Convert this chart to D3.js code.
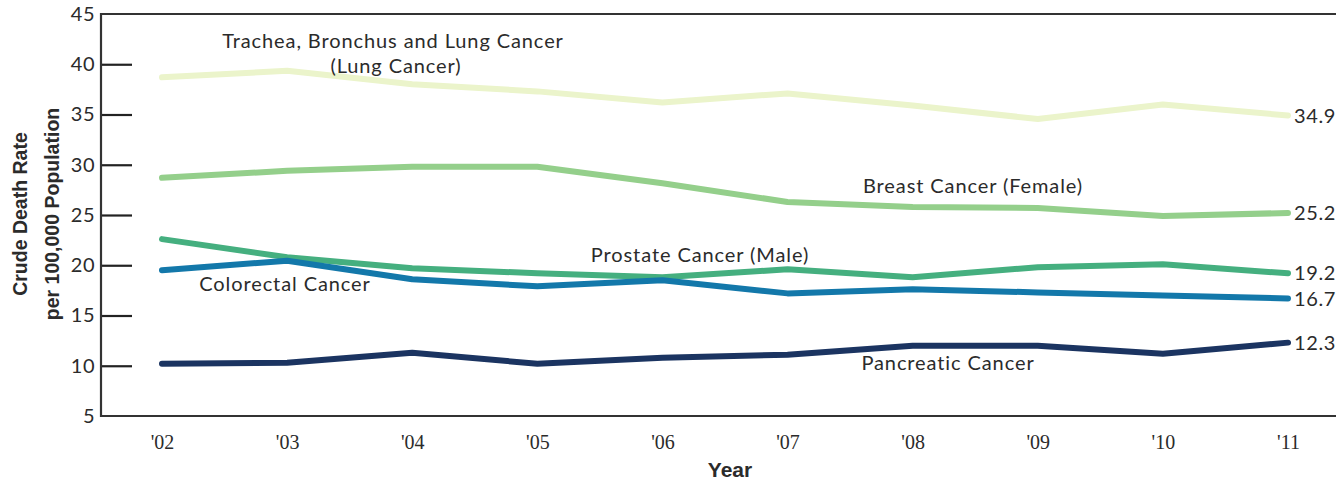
<!DOCTYPE html>
<html>
<head>
<meta charset="utf-8">
<script src="https://cdn.jsdelivr.net/npm/d3@7"></script>
<style>
  html, body { margin: 0; padding: 0; background: #fff; }
  svg { display: block; }
</style>
</head>
<body>
<svg id="chart" width="1336" height="480"></svg>
<script>
const years = ["'02", "'03", "'04", "'05", "'06", "'07", "'08", "'09", "'10", "'11"];
const lungValues       = [38.7, 39.35, 38.0, 37.3, 36.2, 37.1, 35.9, 34.55, 36.0, 34.9];
const breastValues     = [28.7, 29.4, 29.8, 29.8, 28.15, 26.3, 25.8, 25.7, 24.9, 25.2];
const prostateValues   = [22.6, 20.8, 19.7, 19.2, 18.8, 19.6, 18.8, 19.8, 20.1, 19.2];
const colorectalValues = [19.5, 20.45, 18.6, 17.9, 18.5, 17.2, 17.6, 17.3, 17.0, 16.7];
const pancreaticValues = [10.2, 10.3, 11.3, 10.2, 10.8, 11.1, 12.0, 12.0, 11.2, 12.3];
const yTicks = [5, 10, 15, 20, 25, 30, 35, 40, 45];
const endLabels = ["34.9", "25.2", "19.2", "16.7", "12.3"];
const seriesNames = ["Trachea, Bronchus and Lung Cancer", "Breast Cancer (Female)", "Prostate Cancer (Male)", "Colorectal Cancer", "Pancreatic Cancer"];
const colors = ["#ebf4cb", "#94cf8b", "#45af7f", "#1378aa", "#1b3461"];

const series = [lungValues, breastValues, prostateValues, colorectalValues, pancreaticValues];

const svg = d3.select("#chart");
const mLeft = 101, mRight = 1336, mTop = 14, mBottom = 416;

const x = d3.scalePoint().domain(years).range([162, 1288]);
const y = d3.scaleLinear().domain([5, 45]).range([mBottom, mTop]);

const labelFont = "Lato, 'Open Sans', sans-serif";
const ink = "#2b2b2b";

// Y axis labels
const yAxis = d3.axisLeft(y).tickValues(yTicks).tickSize(0).tickPadding(6);
const gy = svg.append("g").attr("transform", `translate(${mLeft},0)`).call(yAxis);
gy.select(".domain").remove();
gy.selectAll("text").attr("font-family", labelFont).attr("font-size", 20)
  .attr("letter-spacing", 0.5).attr("fill", ink);

// inward ticks
const inner = d3.axisRight(y).tickValues(yTicks.filter(v => v > 5 && v < 45)).tickSize(31).tickFormat("");
const gi = svg.append("g").attr("transform", `translate(${mLeft},0)`).call(inner);
gi.select(".domain").remove();
gi.selectAll("line").attr("stroke", "#222").attr("stroke-width", 2.2);

// Frame: top, left, bottom
svg.append("path")
  .attr("d", `M${mRight},${mTop}H${mLeft}V${mBottom}H${mRight}`)
  .attr("fill", "none").attr("stroke", "#333").attr("stroke-width", 2.2);

// X axis labels
const xAxis = d3.axisBottom(x).tickSize(0).tickPadding(19);
const gx = svg.append("g").attr("transform", `translate(0,${mBottom})`).call(xAxis);
gx.select(".domain").remove();
gx.selectAll("text").attr("font-family", "'Liberation Serif', serif").attr("font-size", 20).attr("fill", ink);

// Axis titles
svg.append("text").attr("x", 730).attr("y", 477).attr("text-anchor", "middle")
  .attr("font-family", "'Liberation Sans', Arial, sans-serif").attr("font-weight", "bold")
  .attr("font-size", 21).attr("fill", ink).text("Year");

const yt = svg.append("text").attr("transform", "translate(0,214) rotate(-90)")
  .attr("text-anchor", "middle")
  .attr("font-family", "'Liberation Sans', Arial, sans-serif").attr("font-weight", "bold")
  .attr("font-size", 19.5).attr("fill", ink);
yt.append("tspan").attr("x", 0).attr("y", 27).text("Crude Death Rate");
yt.append("tspan").attr("x", 0).attr("y", 59).text("per 100,000 Population");

// Lines
const line = d3.line().x((d, i) => x(years[i])).y(d => y(d));
series.forEach((vals, k) => {
  svg.append("path").datum(vals)
    .attr("d", line)
    .attr("fill", "none")
    .attr("stroke", colors[k])
    .attr("stroke-width", 6)
    .attr("stroke-linecap", "round")
    .attr("stroke-linejoin", "round");
});

// End labels
series.forEach((vals, k) => {
  svg.append("text")
    .attr("x", x(years[years.length - 1]) + 6)
    .attr("y", y(vals[vals.length - 1]))
    .attr("dy", "0.36em")
    .attr("font-family", labelFont).attr("font-size", 20).attr("letter-spacing", 0.6).attr("fill", ink)
    .text(endLabels[k]);
});

// Series labels
const lab = (txt, cx, by) => svg.append("text").attr("x", cx).attr("y", by)
  .attr("text-anchor", "middle").attr("font-family", labelFont)
  .attr("font-size", 20).attr("letter-spacing", 0.9).attr("fill", ink).text(txt);
lab(seriesNames[0], 393, 48);
lab("(Lung Cancer)", 396, 73);
lab(seriesNames[1], 973, 193);
lab(seriesNames[2], 700, 262);
lab(seriesNames[3], 285, 291);
lab(seriesNames[4], 948, 370);
</script>
</body>
</html>
